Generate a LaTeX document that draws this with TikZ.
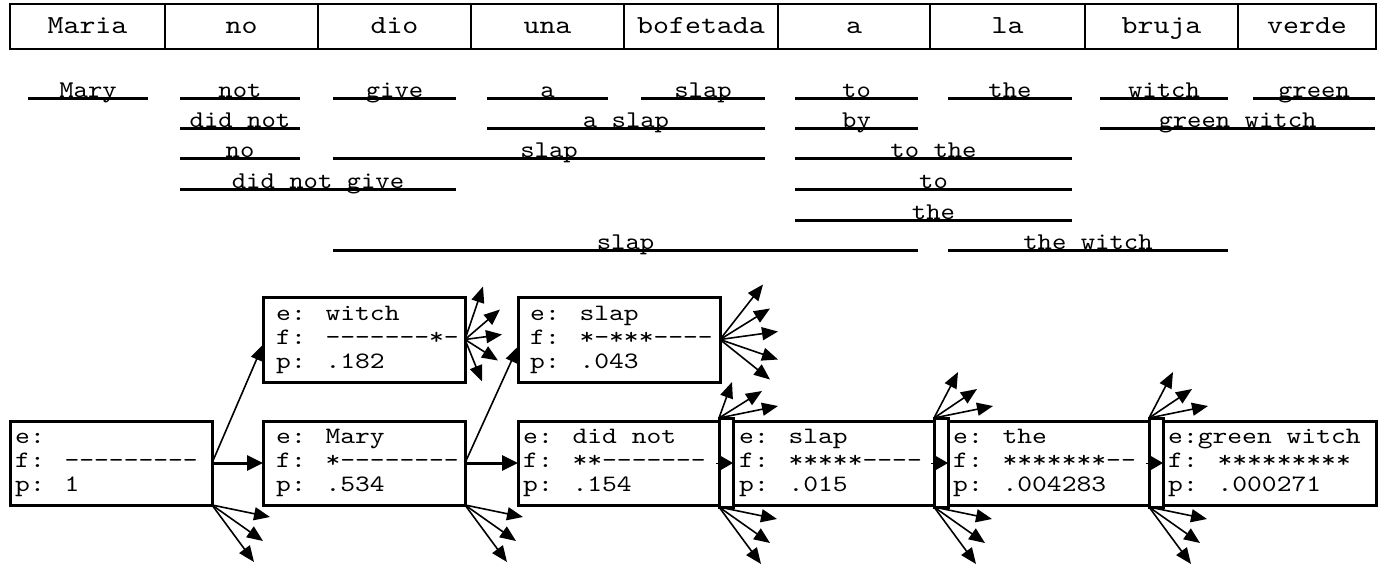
\documentclass[tikz,border=0pt]{standalone}
\usepackage{fontspec}
\usetikzlibrary{arrows.meta,calc}
\newfontfamily\widemono[FakeStretch=1.2]{lmmono10-regular.otf}
\newfontfamily\wordmono[FakeStretch=1.17]{lmmono10-regular.otf}
\newfontfamily\spanmono[FakeStretch=1.14]{lmmono10-regular.otf}
\newcommand\wordfont{\wordmono\fontsize{26}{26}\selectfont}
\newcommand\phrasefont{\spanmono\fontsize{24}{24}\selectfont}
\newcommand\hypfont{\widemono\fontsize{23.5}{24}\selectfont}
% a bundle of expansion arrows leaving one point
\newcommand\fanarrows[3]{%
  \foreach \dx/\dy [count=\k] in {#3}{%
    \coordinate (#2-\k) at ([shift={(\dx,\dy)}]#1);
    \draw[fan] (#1) -- (#2-\k);
  }}
\begin{document}
\begin{tikzpicture}[x=1pt,y=-1pt,
  wordcell/.style={draw,line width=2.5pt,inner sep=0pt,outer sep=0pt,minimum height=45pt,
    anchor=north west,text height=16pt,text depth=3pt,font=\wordfont},
  spanline/.style={line width=3pt},
  spantext/.style={anchor=base,inner sep=0pt,font=\phrasefont},
  hyp/.style={draw,line width=3pt,inner sep=0pt,outer sep=0pt,anchor=north west},
  hyptext/.style={anchor=west,inner sep=0pt,align=left,font=\hypfont},
  gapbar/.style={draw,line width=3pt,inner sep=0pt,outer sep=0pt,anchor=north west,
    minimum width=14pt,minimum height=89pt},
  fan/.style={line width=1.6pt,-{Triangle[length=16pt,width=13pt]}},
  mainarrow/.style={line width=3pt,-{Triangle[length=16pt,width=15pt]}},
  diagarrow/.style={line width=1.6pt,-{Triangle[length=16pt,width=12pt]}},
  hop/.style={line width=1pt,-{Triangle[length=15pt,width=17pt]}}]
\useasboundingbox (0,0) rectangle (1378,566);

% input sentence
\foreach \a/\b/\t [count=\i] in {10/165/Maria,165/318/no,318/471/dio,471/624/una,
    624/778/bofetada,778/930/a,930/1085/la,1085/1238/bruja,1238/1376/verde}{
  \pgfmathsetmacro\w{\b-\a}
  \node[wordcell,minimum width=\w pt] (w\i) at (\a,4) {\t};
}

% translation options
\foreach \a/\b/\y/\t [count=\i] in {
    28/148/98/Mary,180/300/98/not,333/456/98/give,487/608/98/a,641/765/98/slap,
    795/918/98/to,948/1072/98/the,1100/1228/98/witch,1253/1375/98/green,
    180/300/128/did not,487/765/128/a slap,795/918/128/by,1100/1375/128/green witch,
    180/300/158/no,333/765/158/slap,795/1072/158/to the,
    180/456/189/did not give,795/1072/189/to,
    795/1072/220/the,
    333/918/250/slap,948/1228/250/the witch}{
  \coordinate (sl\i) at (\a,\y);
  \coordinate (sr\i) at (\b,\y);
  \draw[spanline] (sl\i) -- (sr\i);
  \node[spantext] (st\i) at ($(sl\i)!0.5!(sr\i)+(0,-1)$) {\t};
}

% hypotheses
\node[hyp,minimum width=202pt,minimum height=84pt] (h0) at (10,421) {};
\node[hyptext] (h0t) at ([xshift=5pt]h0.west) {\strut e:\\f: ---------\\p: 1\strut};
\node[hyp,minimum width=202pt,minimum height=84pt] (h1) at (263,421) {};
\node[hyptext] (h1t) at ([xshift=13pt]h1.west) {\strut e: Mary\\f: *--------\\p: .534\strut};
\node[hyp,minimum width=201pt,minimum height=84pt] (h2) at (518,421) {};
\node[hyptext] (h2t) at ([xshift=5pt]h2.west) {\strut e: did not\\f: **-------\\p: .154\strut};
\node[gapbar] (g1) at (719,418) {};
\node[hyp,minimum width=201pt,minimum height=84pt] (h3) at (733,421) {};
\node[hyptext] (h3t) at ([xshift=6pt]h3.west) {\strut e: slap\\f: *****----\\p: .015\strut};
\node[gapbar] (g2) at (934,418) {};
\node[hyp,minimum width=201pt,minimum height=84pt] (h4) at (948,421) {};
\node[hyptext] (h4t) at ([xshift=5pt]h4.west) {\strut e: the\\f: *******--\\p: .004283\strut};
\node[gapbar] (g3) at (1149,418) {};
\node[hyp,minimum width=213pt,minimum height=84pt] (h5) at (1163,421) {};
\node[hyptext] (h5t) at ([xshift=5pt]h5.west) {\strut e:green witch\\f: *********\\p: .000271\strut};

\node[hyp,minimum width=202pt,minimum height=85pt] (u1) at (263,297) {};
\node[hyptext] (u1t) at ([xshift=13pt]u1.west) {\strut e: witch\\f: -------*-\\p: .182\strut};
\node[hyp,minimum width=202pt,minimum height=85pt] (u2) at (518,297) {};
\node[hyptext] (u2t) at ([xshift=12pt]u2.west) {\strut e: slap\\f: *-***----\\p: .043\strut};

% expansions
\draw[mainarrow] (h0.east) -- (h1.west);
\draw[mainarrow] (h1.east) -- (h2.west);
\draw[diagarrow] (h0.east) -- ([yshift=-5pt]u1.west);
\draw[diagarrow] (h1.east) -- ([yshift=-7pt]u2.west);
\draw[hop] ([xshift=-3pt]h2.east) -- (h3.west);
\draw[hop] ([xshift=-3pt]h3.east) -- (h4.west);
\draw[hop] ([xshift=-3pt]h4.east) -- (h5.west);

\fanarrows{h0.south east}{fa}{58/12,51/36,42/57}
\fanarrows{h1.south east}{fb}{58/12,51/36,42/57}
\fanarrows{g1.south west}{fc}{58/12,51/36,42/57}
\fanarrows{g2.south west}{fd}{58/12,51/36,42/57}
\fanarrows{g3.south west}{fe}{58/12,51/36,42/57}
\fanarrows{g1.north west}{ff}{13/-36,43/-27,59/-12}
\fanarrows{g2.north west}{fg}{24/-46,43/-29,59/-12}
\fanarrows{g3.north west}{fh}{24/-46,43/-29,59/-12}
\fanarrows{u1.east}{fi}{18/-53,35/-30,37/-5,33/21,17/42}
\fanarrows{u2.east}{fj}{43/-55,50/-31,58/-8,58/20,50/40}
\end{tikzpicture}
\end{document}
